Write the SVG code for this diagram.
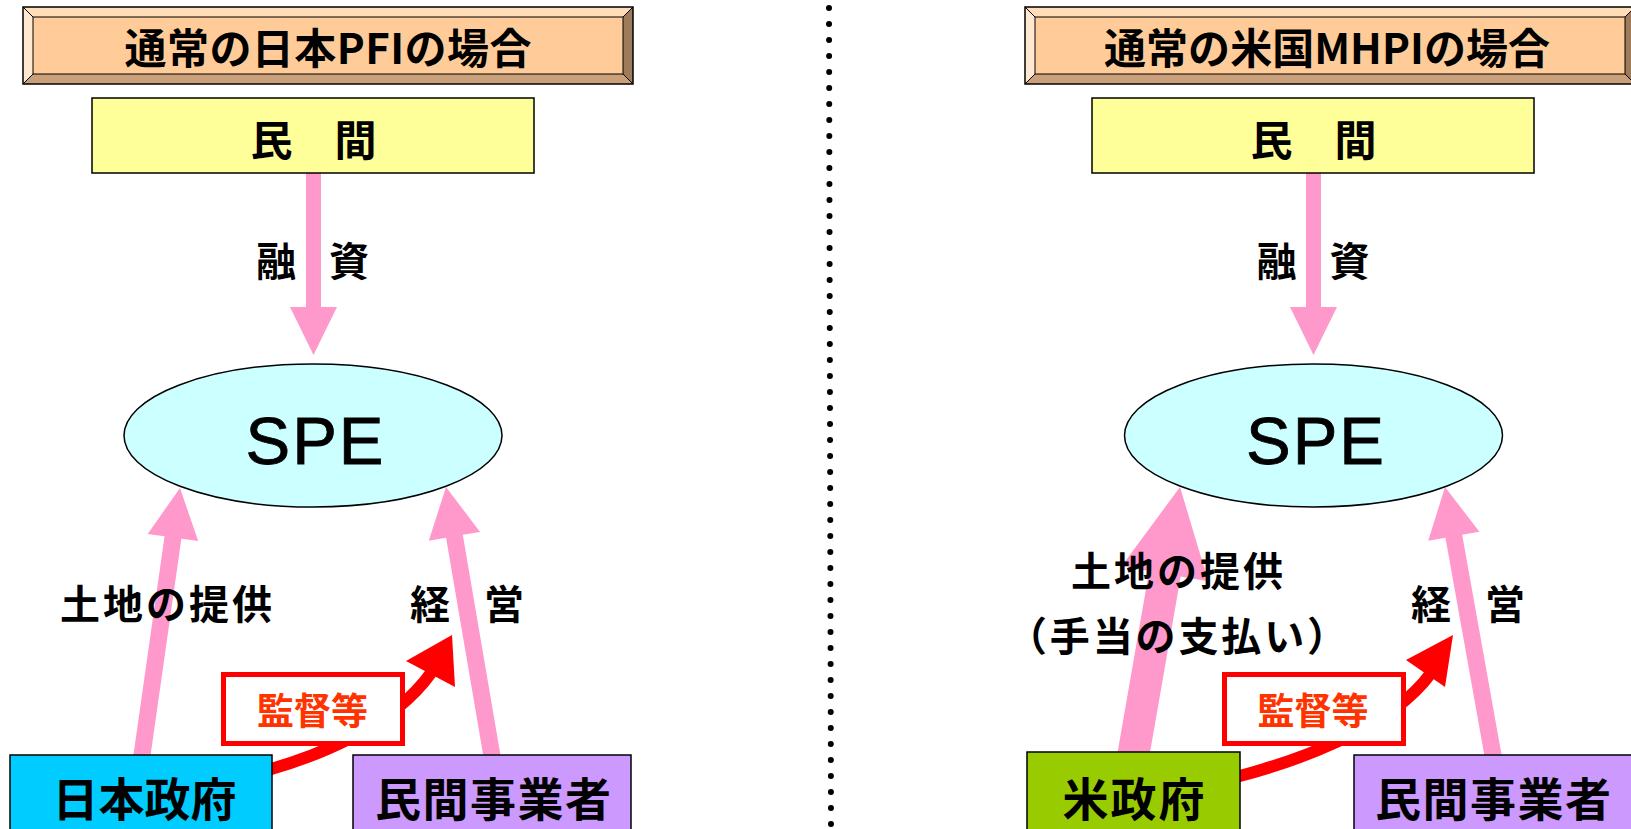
<svg xmlns="http://www.w3.org/2000/svg" width="1631" height="829" viewBox="0 0 1631 829">
  <style>
    .jp { font-family: "Noto Sans CJK JP", "Noto Sans CJK SC", sans-serif; font-weight: 700; fill: #000; text-anchor: middle; dominant-baseline: central; }
    .spe { font-family: "Liberation Sans", Arial, sans-serif; font-size: 67px; fill: #000; text-anchor: middle; letter-spacing: 2px; stroke: #000; stroke-width: 0.8; }
    .pink { fill: #FF99CC; }
    .red { fill: #FF0000; }
    .redline { fill: none; stroke: #FF0000; stroke-width: 12; }
    .box { stroke: #000; stroke-width: 1.5; }
    .ell { fill: #CCFFFF; stroke: #000; stroke-width: 1.5; }
    .tag { fill: #FFFFFF; stroke: #FF0000; stroke-width: 5; }
    .tagtext { fill: #FF3300; }
  </style>
  <defs>
    <g id="bevel">
      <rect x="0" y="0" width="610" height="77" fill="#FFCC99"/>
      <polygon points="0,0 610,0 600,10 10,10" fill="#FFDDB8"/>
      <polygon points="0,0 10,10 10,67 0,77" fill="#FFE8D1"/>
      <polygon points="0,77 10,67 600,67 610,77" fill="#C9A07A"/>
      <polygon points="610,0 610,77 600,67 600,10" fill="#9E7B5B"/>
      <rect x="10" y="10" width="590" height="57" fill="none" stroke="#000" stroke-width="1"/>
      <path d="M0,0 L10,10 M610,0 L600,10 M0,77 L10,67 M610,77 L600,67" stroke="#000" stroke-width="1"/>
      <rect x="0" y="0" width="610" height="77" fill="none" stroke="#000" stroke-width="1.5"/>
    </g>
  </defs>

  <rect width="1631" height="829" fill="#FFFFFF"/>

  <!-- divider -->
  <line x1="829" y1="8" x2="831" y2="829" stroke="#000" stroke-width="6" stroke-dasharray="0 16" stroke-linecap="round"/>

  <!-- titles -->
  <g id="title-left">
    <use href="#bevel" x="23" y="7"/>
    <text class="jp" x="328" y="45.5" font-size="42" textLength="407">通常の日本PFIの場合</text>
  </g>
  <g id="title-right">
    <use href="#bevel" x="1025" y="7"/>
    <text class="jp" x="1327" y="45.5" font-size="42" textLength="446">通常の米国MHPIの場合</text>
  </g>

  <!-- connectors -->
  <g id="connectors">
    <!-- left panel -->
    <rect class="pink" x="306" y="170" width="15" height="138"/>
    <polygon class="pink" points="290,307 337,307 313.5,355"/>
    <polygon class="pink" transform="translate(180,488) rotate(8.1)" points="0,0 25.5,50 8.5,50 8.5,276 -8.5,276 -8.5,50 -25.5,50"/>
    <polygon class="pink" transform="translate(446,487) rotate(-9.7)" points="0,0 26,50 8.5,50 8.5,278 -8.5,278 -8.5,50 -26,50"/>
    <path class="redline" d="M268,770 C310,758 390,730 431,673"/>
    <polygon class="red" points="452,635 455,687 406,661"/>
    <!-- right panel -->
    <rect class="pink" x="1306" y="170" width="15" height="138"/>
    <polygon class="pink" points="1290,307 1337,307 1313.5,355"/>
    <polygon class="pink" transform="translate(1180,487) rotate(9.88)" points="0,0 44,88 16,88 16,276 -16,276 -16,88 -44,88"/>
    <polygon class="pink" transform="translate(1445,487) rotate(-10.15)" points="0,0 26,50 8.5,50 8.5,278 -8.5,278 -8.5,50 -26,50"/>
    <path class="redline" d="M1236,777 C1290,763 1390,730 1431,673"/>
    <polygon class="red" points="1453,635 1445,687 1406,660"/>
  </g>

  <!-- nodes left -->
  <g id="minkan-left">
    <rect class="box" x="92" y="98" width="442" height="75" fill="#FFFF99"/>
    <text class="jp" x="313.5" y="137" font-size="42" textLength="126">民　間</text>
  </g>
  <g id="spe-left">
    <ellipse class="ell" cx="313" cy="435.5" rx="189" ry="71.5"/>
    <text class="spe" x="315.5" y="464">SPE</text>
  </g>
  <g id="nihon-seifu">
    <rect class="box" x="10" y="755" width="262" height="90" fill="#00CCFF"/>
    <text class="jp" x="144.5" y="796" font-size="46">日本政府</text>
  </g>
  <g id="jigyosha-left">
    <rect class="box" x="353" y="755" width="278" height="90" fill="#CC99FF"/>
    <text class="jp" x="493" y="796" font-size="46" textLength="236">民間事業者</text>
  </g>

  <!-- nodes right -->
  <g id="minkan-right">
    <rect class="box" x="1092" y="98" width="442" height="75" fill="#FFFF99"/>
    <text class="jp" x="1313.5" y="137" font-size="42" textLength="126">民　間</text>
  </g>
  <g id="spe-right">
    <ellipse class="ell" cx="1313.5" cy="435.5" rx="189" ry="71.5"/>
    <text class="spe" x="1316" y="464">SPE</text>
  </g>
  <g id="bei-seifu">
    <rect class="box" x="1027" y="752" width="213" height="90" fill="#99CC00"/>
    <text class="jp" x="1133.5" y="796" font-size="46" textLength="142">米政府</text>
  </g>
  <g id="jigyosha-right">
    <rect class="box" x="1354" y="755" width="290" height="90" fill="#CC99FF"/>
    <text class="jp" x="1493" y="796" font-size="46" textLength="236">民間事業者</text>
  </g>

  <!-- connector labels -->
  <g id="labels">
    <text class="jp" x="312.5" y="259" font-size="40" textLength="113">融　資</text>
    <text class="jp" x="166" y="602" font-size="40" textLength="212">土地の提供</text>
    <text class="jp" x="467" y="602" font-size="40" textLength="114">経　営</text>
    <rect class="tag" x="223.5" y="674.5" width="179" height="69"/>
    <text class="jp tagtext" x="312.5" y="709" font-size="37">監督等</text>

    <text class="jp" x="1313" y="259" font-size="40" textLength="113">融　資</text>
    <text class="jp" x="1177" y="569" font-size="40" textLength="212">土地の提供</text>
    <text class="jp" x="1177" y="634" font-size="40" textLength="340">（手当の支払い）</text>
    <text class="jp" x="1468" y="602" font-size="40" textLength="114">経　営</text>
    <rect class="tag" x="1224.5" y="674.5" width="179" height="69"/>
    <text class="jp tagtext" x="1313" y="709" font-size="37">監督等</text>
  </g>
</svg>
